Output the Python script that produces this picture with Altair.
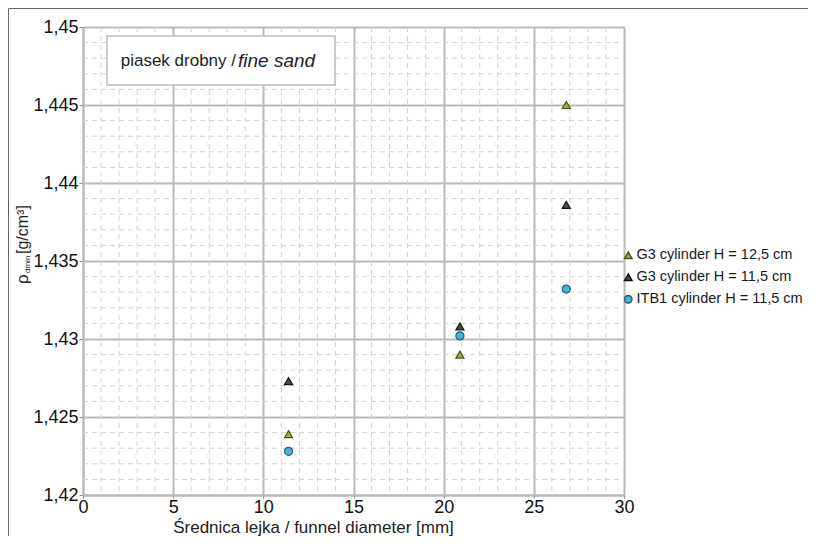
import altair as alt
import pandas as pd

# ---- data ----
series_names = ["G3 cylinder H = 12,5 cm", "G3 cylinder H = 11,5 cm", "ITB1 cylinder H = 11,5 cm"]
funnel_diam = [11.4, 20.9, 26.8]
g3_125 = [1.4239, 1.4290, 1.4450]
g3_115 = [1.4273, 1.4308, 1.4386]
itb1 = [1.4228, 1.4302, 1.4332]

x_ticks = [0, 5, 10, 15, 20, 25, 30]
y_ticks = [1.42, 1.425, 1.43, 1.435, 1.44, 1.445, 1.45]
x_minor = [v for v in range(0, 31) if v % 5 != 0]
y_minor = [round(1.42 + i * 0.001, 3) for i in range(0, 31) if i % 5 != 0]

fills = ["#a3ae3e", "#4f4f3a", "#47b4d2"]
strokes = ["#4a5220", "#111111", "#1e6579"]
shapes = ["triangle-up", "triangle-up", "circle"]

rows = []
for name, vals in zip(series_names, [g3_125, g3_115, itb1]):
    for xv, yv in zip(funnel_diam, vals):
        rows.append({"x": xv, "y": yv, "series": name})
pts = pd.DataFrame(rows)

W, H = 541, 468
FONT = "Liberation Sans"
GRID = "#b9b9b9"

x_axis = alt.Axis(values=x_ticks, title="Średnica lejka / funnel diameter [mm]",
                  grid=True, gridColor=GRID, gridWidth=2, domainColor=GRID, domainWidth=2,
                  tickSize=3, tickColor="#888", labelFontSize=18, labelColor="#111", labelFont=FONT,
                  labelPadding=0, labelFlush=False,
                  titleFont=FONT, titleFontSize=17, titleFontWeight="normal",
                  titleColor="#222", titleX=230, titleY=32, titleBaseline="middle")
y_axis = alt.Axis(values=y_ticks, title=None,
                  labelExpr="replace(format(datum.value, '.3~f'), '.', ',')",
                  grid=True, gridColor=GRID, gridWidth=2, domainColor=GRID, domainWidth=2,
                  tickSize=4, tickColor="#888", labelFontSize=18, labelColor="#111", labelFont=FONT,
                  labelPadding=1, labelFlush=False)
xs = alt.Scale(domain=[0, 30], nice=False, zero=False)
ys = alt.Scale(domain=[1.42, 1.45], nice=False, zero=False)

one = pd.DataFrame({"a": [0]})

frame = alt.Chart(one).mark_rect(fill="white", fillOpacity=0, stroke="#666", strokeWidth=1).encode(
    x=alt.value(-74.5), x2=alt.value(740), y=alt.value(-18.5), y2=alt.value(530))

minor_x = alt.Chart(pd.DataFrame({"x": x_minor})).mark_rule(
    color="#d2d2d2", strokeWidth=1, strokeDash=[5, 4]).encode(
    x=alt.X("x:Q", scale=xs, axis=x_axis), y=alt.value(0), y2=alt.value(H))
minor_y = alt.Chart(pd.DataFrame({"y": y_minor})).mark_rule(
    color="#d2d2d2", strokeWidth=1, strokeDash=[5, 4]).encode(
    y=alt.Y("y:Q", scale=ys, axis=y_axis), x=alt.value(0), x2=alt.value(W))

box = alt.Chart(one).mark_rect(fill="white", stroke="#bdbdbd", strokeWidth=1.5).encode(
    x=alt.value(24), x2=alt.value(252), y=alt.value(9), y2=alt.value(58))
t1 = alt.Chart(pd.DataFrame({"t": ["piasek drobny /"]})).mark_text(
    font=FONT, fontSize=17, color="#222", align="right", baseline="middle").encode(
    text="t:N", x=alt.value(153), y=alt.value(34))
t2 = alt.Chart(pd.DataFrame({"t": ["fine sand"]})).mark_text(
    font=FONT, fontSize=19, color="#222", align="left", baseline="middle", fontStyle="italic").encode(
    text="t:N", x=alt.value(155), y=alt.value(34))

points = alt.Chart(pts).mark_point(filled=True, size=65, strokeWidth=1.2, opacity=1).encode(
    x=alt.X("x:Q", scale=xs, axis=x_axis),
    y=alt.Y("y:Q", scale=ys, axis=y_axis),
    fill=alt.Fill("series:N", scale=alt.Scale(domain=series_names, range=fills),
                  legend=alt.Legend(title=None, orient="none", legendX=538, legendY=221,
                                    labelFont=FONT, labelFontSize=14.5, labelColor="#1a1a1a",
                                    labelLimit=400, symbolSize=55, rowPadding=7, labelOffset=1,
                                    symbolOffset=0, padding=0)),
    stroke=alt.Stroke("series:N", scale=alt.Scale(domain=series_names, range=strokes)),
    shape=alt.Shape("series:N", scale=alt.Scale(domain=series_names, range=shapes)),
)

# y-axis title: rho with subscript dmin
yt_rho = alt.Chart(pd.DataFrame({"t": ["ρ"]})).mark_text(
    font=FONT, fontSize=17, color="#222", align="left", baseline="middle", angle=270).encode(
    text="t:N", x=alt.value(-60), y=alt.value(257))
yt_sub = alt.Chart(pd.DataFrame({"t": ["dmin"]})).mark_text(
    font=FONT, fontSize=8, color="#222", align="left", baseline="middle", angle=270).encode(
    text="t:N", x=alt.value(-55), y=alt.value(246))
yt_unit = alt.Chart(pd.DataFrame({"t": ["[g/cm³]"]})).mark_text(
    font=FONT, fontSize=16, color="#222", align="left", baseline="middle", angle=270).encode(
    text="t:N", x=alt.value(-60), y=alt.value(227))

chart = alt.layer(frame, minor_x, minor_y, box, t1, t2, points, yt_rho, yt_sub, yt_unit).properties(
    width=W, height=H,
    autosize=alt.AutoSizeParams(type="none"),
    padding={"left": 75, "top": 19, "right": 184, "bottom": 41},
).configure_view(stroke=None).configure(background="white")

chart.save("out.html", embed_options={"renderer": "svg", "actions": False})
